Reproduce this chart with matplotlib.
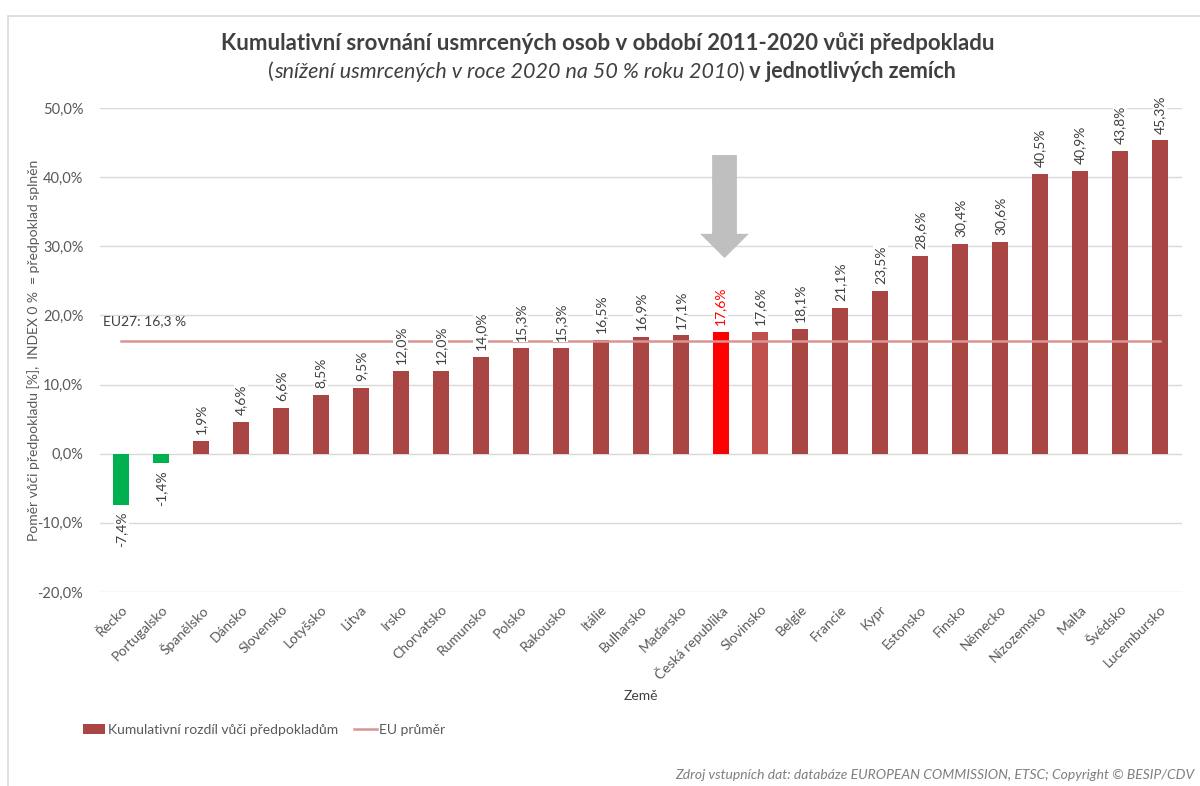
import matplotlib
matplotlib.use("Agg")
import matplotlib.pyplot as plt
from matplotlib.patches import Patch, Polygon, Rectangle
from matplotlib.lines import Line2D

plt.rcParams['font.family'] = ['Lato', 'DejaVu Sans']

countries = ['Řecko', 'Portugalsko', 'Španělsko', 'Dánsko', 'Slovensko', 'Lotyšsko', 'Litva',
             'Irsko', 'Chorvatsko', 'Rumunsko', 'Polsko', 'Rakousko', 'Itálie', 'Bulharsko',
             'Maďarsko', 'Česká republika', 'Slovinsko', 'Belgie', 'Francie', 'Kypr', 'Estonsko',
             'Finsko', 'Německo', 'Nizozemsko', 'Malta', 'Švédsko', 'Lucembursko']
values = [-7.4, -1.4, 1.9, 4.6, 6.6, 8.5, 9.5, 12.0, 12.0, 14.0, 15.3, 15.3, 16.5, 16.9,
          17.1, 17.6, 17.6, 18.1, 21.1, 23.5, 28.6, 30.4, 30.6, 40.5, 40.9, 43.8, 45.3]
eu_avg = 16.3
yticks = [-20, -10, 0, 10, 20, 30, 40, 50]

bar_col = '#a94543'
neg_col = '#00b050'
cz_col = '#ff0000'
slo_col = '#c0504d'
eu_col = '#d99594'
txt = '#404040'
grey = '#595959'

colors = []
for c, v in zip(countries, values):
    if c == 'Česká republika':
        colors.append(cz_col)
    elif c == 'Slovinsko':
        colors.append(slo_col)
    elif v < 0:
        colors.append(neg_col)
    else:
        colors.append(bar_col)

fig = plt.figure(figsize=(12, 7.86), dpi=100)
ax = fig.add_axes([100/1200, 1-592/786, 1082/1200, 484/786])

# frame like the source image
fig.patches.append(Rectangle((8/1200, -0.1), 1.2, 1-16/786+0.1, transform=fig.transFigure,
                             fill=False, edgecolor='#d9d9d9', lw=1.2))

x = list(range(len(countries)))
ax.bar(x, values, width=0.4, color=colors, zorder=2)
ax.plot([0, len(countries)-1], [eu_avg, eu_avg], color=eu_col, lw=1.8, zorder=3)
ax.text(-0.45, 19.1, 'EU27: 16,3 %', fontsize=10, color=txt, va='center', ha='left')

for i, v in enumerate(values):
    lab = ('%.1f%%' % v).replace('.', ',')
    col = cz_col if countries[i] == 'Česká republika' else txt
    if v >= 0:
        ax.annotate(lab, (i, v), xytext=(0, 5), textcoords='offset points', rotation=90,
                    ha='center', va='bottom', fontsize=10, color=col, zorder=4,
                    bbox=dict(facecolor='white', edgecolor='none', pad=1))
    else:
        ax.annotate(lab, (i, v), xytext=(0, -5), textcoords='offset points', rotation=90,
                    ha='center', va='top', fontsize=10, color=col, zorder=4,
                    bbox=dict(facecolor='white', edgecolor='none', pad=1))

# grey arrow pointing at Czech republic
cz = countries.index('Česká republika') + 0.1
arr = Polygon([(cz-0.31, 43.2), (cz+0.31, 43.2), (cz+0.31, 31.8), (cz+0.61, 31.8),
               (cz, 28.3), (cz-0.61, 31.8), (cz-0.31, 31.8)],
              closed=True, facecolor='#bfbfbf', edgecolor='none', zorder=3)
ax.add_patch(arr)

ax.set_xlim(-0.53, 26.55)
ax.set_ylim(-20, 50)
ax.set_yticks(yticks)
ax.set_yticklabels([('%.1f%%' % t).replace('.', ',') for t in yticks], fontsize=10.5, color=grey)
ax.set_xticks(x)
ax.set_xticklabels(countries, rotation=45, ha='right', va='top', rotation_mode='anchor',
                   fontsize=10, color=grey)
ax.tick_params(length=0)
ax.tick_params(axis='x', pad=8)
ax.tick_params(axis='y', pad=12)
ax.grid(axis='y', color='#d9d9d9', lw=1, zorder=0)
ax.set_axisbelow(True)
for s in ax.spines.values():
    s.set_visible(False)

ax.set_xlabel('Země', fontsize=10, color=txt)
ax.xaxis.set_label_coords(0.5, -(690-592)/484)
ax.set_ylabel('Poměr vůči předpokladu [%],  INDEX 0 %  = předpoklad splněn', fontsize=10, color=grey)
ax.yaxis.set_label_coords(-60/1082, 0.5)

handles = [Patch(facecolor=bar_col), Line2D([0], [0], color=eu_col, lw=1.8)]
fig.legend(handles, ['Kumulativní rozdíl vůči předpokladům', 'EU průměr'], loc='center left',
           bbox_to_anchor=(70/1200, 1-730/786), ncol=2, frameon=False, fontsize=10,
           handlelength=1.6, handletextpad=0.2, columnspacing=1.2, labelcolor=grey)

# title
fig.text(608/1200, 1-43/786, 'Kumulativní srovnání usmrcených osob v období 2011-2020 vůči předpokladu',
         ha='center', va='center', fontsize=16, weight='bold', color=txt)
parts = [('(', 'normal', 'normal'), ('snížení usmrcených v roce 2020 na 50 % roku 2010', 'normal', 'italic'),
         (')', 'normal', 'normal'), (' v jednotlivých zemích', 'bold', 'normal')]
r = fig.canvas.get_renderer()
pieces = [fig.text(0, 1-72/786, s, ha='left', va='center', fontsize=15.5, weight=w, style=st, color=txt)
          for s, w, st in parts]
widths = [p.get_window_extent(r).width for p in pieces]
x0 = 612 - sum(widths)/2
for p, w in zip(pieces, widths):
    p.set_x(x0/1200)
    x0 += w

fig.text(1194/1200, 1-775/786, 'Zdroj vstupních dat: databáze EUROPEAN COMMISSION, ETSC; Copyright © BESIP/CDV',
         ha='right', va='center', fontsize=10, style='italic', color='#7f7f7f')

fig.savefig('out.png', dpi=100)
